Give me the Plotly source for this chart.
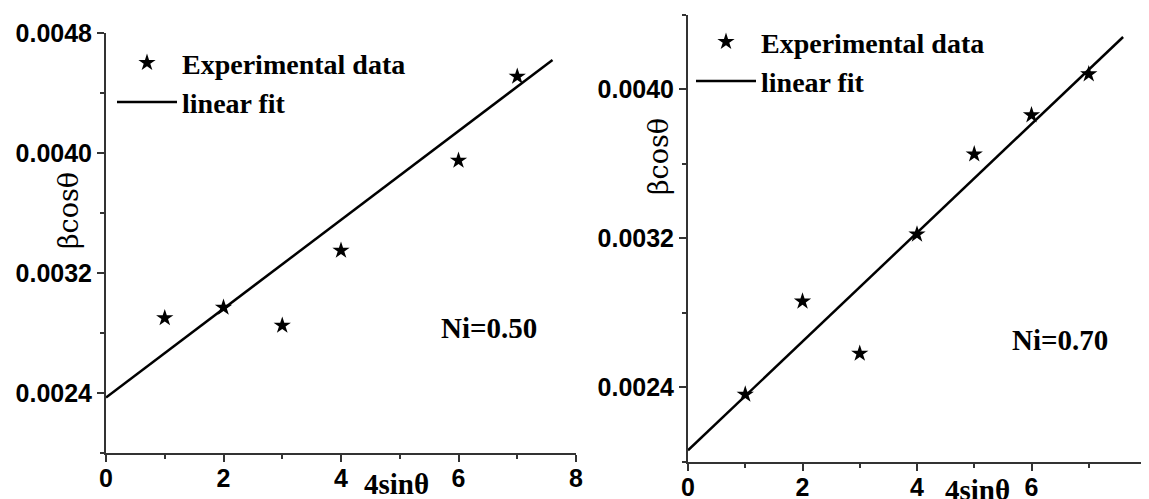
import plotly.graph_objects as go

# ---- data ----
x_left = [1, 2, 3, 4, 6, 7]
y_left = [0.00290, 0.00297, 0.00285, 0.00335, 0.00395, 0.00451]
fit_left_intercept = 0.00237
fit_left_slope = 0.000296

x_right = [1, 2, 3, 4, 5, 6, 7]
y_right = [0.00236, 0.00286, 0.00258, 0.00322, 0.00365, 0.00386, 0.00408]
fit_right_intercept = 0.00206
fit_right_slope = 0.000292

fit_x_end = 7.6
x_ticks = [0, 2, 4, 6, 8]
labels = ["Ni=0.50", "Ni=0.70"]

# page is offset by the default 8px body margin
OFF = 8
W, H = 1149 - OFF, 499 - OFF
SERIF = "Liberation Serif"
SANS = "Liberation Sans"

def px(v):
    return (v - OFF) / W

def py(v):
    return 1 - (v - OFF) / H

fig = go.Figure()

def fit_line(b, m):
    xs = [0, fit_x_end]
    return xs, [b + m * x for x in xs]

fx, fy = fit_line(fit_left_intercept, fit_left_slope)
fig.add_trace(go.Scatter(x=x_left, y=y_left, mode="markers", name="Experimental data",
                         marker=dict(symbol="star", size=13, color="black"),
                         xaxis="x", yaxis="y", legend="legend"))
fig.add_trace(go.Scatter(x=fx, y=fy, mode="lines", name="linear fit",
                         line=dict(color="black", width=2.5),
                         xaxis="x", yaxis="y", legend="legend"))

fx2, fy2 = fit_line(fit_right_intercept, fit_right_slope)
fig.add_trace(go.Scatter(x=x_right, y=y_right, mode="markers", name="Experimental data",
                         marker=dict(symbol="star", size=13, color="black"),
                         xaxis="x2", yaxis="y2", legend="legend2"))
fig.add_trace(go.Scatter(x=fx2, y=fy2, mode="lines", name="linear fit",
                         line=dict(color="black", width=2.5),
                         xaxis="x2", yaxis="y2", legend="legend2"))

tickfont = dict(family=SANS, size=25, color="black", weight="bold")
axis_common = dict(showgrid=False, zeroline=False, showline=True, linecolor="#333333",
                   linewidth=2, ticks="outside", ticklen=7, tickwidth=2, tickcolor="#333333",
                   tickfont=tickfont, automargin=False)

xa = dict(axis_common, range=[0, 8], tickvals=x_ticks, ticklabelstandoff=-5,
          minor=dict(ticks="outside", ticklen=4, tickwidth=1.5, tickcolor="#333333", dtick=1, tick0=0))
ya_minor = dict(ticks="outside", ticklen=4, tickwidth=1.5, tickcolor="#333333", dtick=0.0004, tick0=0)

fig.update_layout(
    width=W, height=H,
    margin=dict(l=0, r=0, t=0, b=0, autoexpand=False),
    paper_bgcolor="white", plot_bgcolor="white",
    xaxis=dict(xa, domain=[px(106), px(576)], anchor="y"),
    yaxis=dict(axis_common, domain=[py(453), py(33)], anchor="x", range=[0.0020, 0.00480001],
               dtick=0.0008, tick0=0, tickformat=".4f", minor=ya_minor),
    xaxis2=dict(xa, domain=[px(688), px(1146)], anchor="y2"),
    yaxis2=dict(axis_common, domain=[py(461.5), py(14.5)], anchor="x2", range=[0.0020, 0.0044],
                dtick=0.0008, tick0=0, tickformat=".4f", minor=ya_minor),
    legend=dict(x=px(112), y=py(38), xanchor="left", yanchor="top", bgcolor="rgba(0,0,0,0)",
                font=dict(family=SERIF, size=28, color="black", weight="bold"),
                itemwidth=60, tracegroupgap=0),
    legend2=dict(x=px(691), y=py(17), xanchor="left", yanchor="top", bgcolor="rgba(0,0,0,0)",
                 font=dict(family=SERIF, size=28, color="black", weight="bold"),
                 itemwidth=60, tracegroupgap=0),
    showlegend=True,
)

def ann(x, y, text, font, angle=0):
    fig.add_annotation(x=px(x), y=py(y), xref="paper", yref="paper", text=text,
                       showarrow=False, textangle=angle, font=font,
                       xanchor="center", yanchor="middle")

ann_font = dict(family=SERIF, size=29, color="black", weight="bold")
ann(489, 328, labels[0], ann_font)
ann(1060, 340, labels[1], ann_font)
ann(396, 484, "4sinθ", ann_font)
ann(977, 490, "4sinθ", ann_font)
yt_font = dict(family="DejaVu Serif", size=27, color="black")
ann(68, 211, "βcosθ", yt_font, -90)
ann(658, 157, "βcosθ", yt_font, -90)

fig.write_html("out.html")
